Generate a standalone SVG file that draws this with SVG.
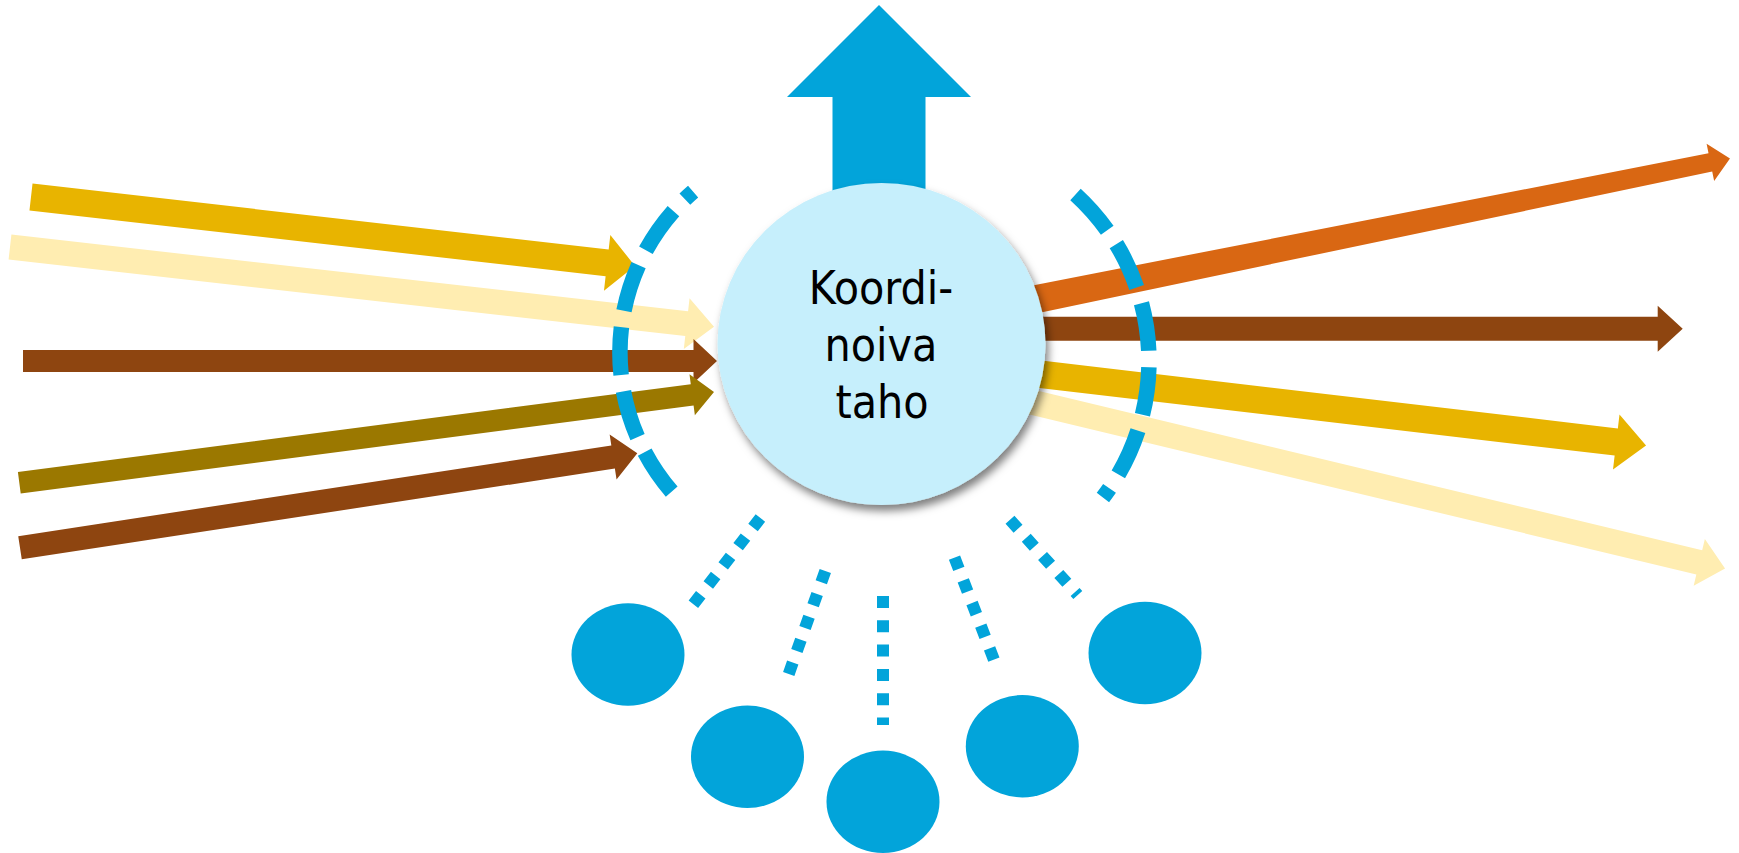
<svg xmlns="http://www.w3.org/2000/svg" width="1739" height="853" viewBox="0 0 1739 853">
<defs>
<style>
.gold{fill:#E8B400}
.pale{fill:#FFEDB1}
.brown{fill:#8E4510}
.olive{fill:#9B7800}
.orange{fill:#D96713}
.blue{fill:#02A4DA}
.arc{fill:none;stroke:#02A4DA;stroke-width:15.5;stroke-dasharray:48 16.5;stroke-linecap:butt}
.dot{fill:none;stroke:#02A4DA;stroke-width:12;stroke-dasharray:12 12.3;stroke-linecap:butt}
.label{font-family:"DejaVu Sans Condensed","DejaVu Sans","Liberation Sans",sans-serif;font-stretch:condensed;font-size:46px;fill:#000;text-anchor:middle}
</style>
<filter id="shadow" x="-20%" y="-20%" width="140%" height="140%">
<feDropShadow dx="3" dy="6" stdDeviation="4" flood-color="#000" flood-opacity="0.5"/>
</filter>
</defs>
<rect width="1739" height="853" fill="#fff"/>
<g id="connectors">
<polygon class="gold" transform="translate(31 197) rotate(6.517)" points="0,-13.5 579.9,-13.5 579.9,-28 607.9,0 579.9,28 579.9,13.5 0,13.5"/>
<polygon class="pale" transform="translate(10 247) rotate(6.459)" points="0,-12.5 681,-12.5 681,-25.5 708.5,0 681,25.5 681,12.5 0,12.5"/>
<polygon class="brown" transform="translate(23 361)" points="0,-11 670.5,-11 670.5,-22 694,0 670.5,22 670.5,11 0,11"/>
<polygon class="olive" transform="translate(19.3 482.8) rotate(-7.447)" points="0,-10.8 678.6,-10.8 678.6,-20.7 700.6,0 678.6,20.7 678.6,10.8 0,10.8"/>
<polygon class="brown" transform="translate(20 547.7) rotate(-8.694)" points="0,-11.7 600,-11.7 600,-22.8 624.5,0 600,22.8 600,11.7 0,11.7"/>
<polygon class="orange" transform="translate(1000 306.4) rotate(-11.453)" points="0,-14.3 724.8,-9.3 724.8,-19 744.8,0 724.8,19 724.8,9.3 0,14.3"/>
<polygon class="brown" transform="translate(1000 328.7)" points="0,-12 657.7,-12 657.7,-23 682.7,0 657.7,23 657.7,12 0,12"/>
<polygon class="gold" transform="translate(1000 369.5) rotate(6.710)" points="0,-13.7 620.5,-13.7 620.5,-27.8 650.5,0 620.5,27.8 620.5,13.7 0,13.7"/>
<polygon class="pale" transform="translate(1000 394.6) rotate(13.488)" points="0,-12.5 719.1,-12.5 719.1,-24 745.6,0 719.1,24 719.1,12.5 0,12.5"/>
<polygon class="blue" points="879,5 971,97 925.5,97 925.5,250 832.5,250 832.5,97 787,97"/>
<path class="arc" d="M 671.7 491.6 A 213.1 213.1 0 0 1 693.1 191.6"/>
<path class="arc" d="M 1075.5 194.5 A 225.3 225.3 0 0 1 1102.9 497.5"/>
<line class="dot" x1="760.4" y1="518" x2="693" y2="604.7"/>
<line class="dot" x1="825.3" y1="571" x2="788.7" y2="674"/>
<line class="dot" x1="883" y1="596" x2="883" y2="725"/>
<line class="dot" x1="954.5" y1="557.7" x2="993.9" y2="659.6"/>
<line class="dot" x1="1010" y1="519.8" x2="1077.8" y2="595"/>
</g>
<g id="node-koordinoiva-taho">
<ellipse cx="881.5" cy="344" rx="164" ry="161" fill="#C6EFFC" filter="url(#shadow)"/>
<text class="label" x="881" y="304">Koordi-</text>
<text class="label" x="881" y="361">noiva</text>
<text class="label" x="882" y="418">taho</text>
</g>
<g id="node-1"><ellipse class="blue" cx="628" cy="654.5" rx="56.5" ry="51.2"/></g>
<g id="node-2"><ellipse class="blue" cx="747.5" cy="756.7" rx="56.5" ry="51.2"/></g>
<g id="node-3"><ellipse class="blue" cx="883" cy="801.7" rx="56.5" ry="51.2"/></g>
<g id="node-4"><ellipse class="blue" cx="1022.3" cy="746.2" rx="56.5" ry="51.2"/></g>
<g id="node-5"><ellipse class="blue" cx="1145" cy="653" rx="56.5" ry="51.2"/></g>
</svg>
